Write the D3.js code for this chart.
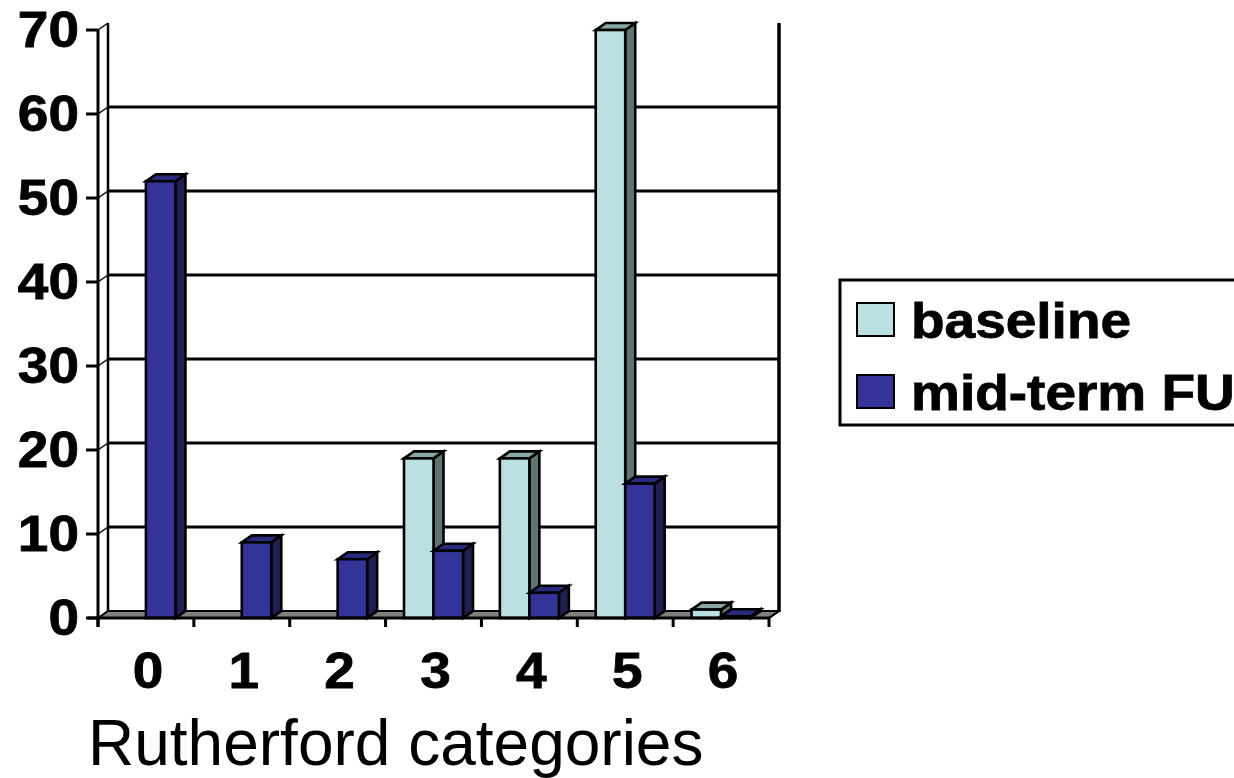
<!DOCTYPE html>
<html>
<head>
<meta charset="utf-8">
<script src="https://cdn.jsdelivr.net/npm/d3@7/dist/d3.min.js"></script>
<style>
  html, body { margin: 0; padding: 0; background: #ffffff; }
  svg { display: block; }
  text { font-family: "Liberation Sans", Arial, sans-serif; fill: #000; }
</style>
</head>
<body>
<svg id="chart" width="1234" height="778"></svg>
<script>
// Rutherford category counts at baseline and at mid-term follow-up
const categories = ["0", "1", "2", "3", "4", "5", "6"];
const seriesNames = ["baseline", "mid-term FU"];
const baselineValues = [0, 0, 0, 19, 19, 70, 1];
const midtermValues = [52, 9, 7, 8, 3, 16, 0.2];
const yTicks = [0, 10, 20, 30, 40, 50, 60, 70];
const xTitle = "Rutherford categories";

const seriesValues = [baselineValues, midtermValues];
const colors = [
  { front: "#bbe0e3", top: "#8aa7a8", side: "#5f7373" },
  { front: "#333399", top: "#2a2a80", side: "#1f1f52" }
];

const svg = d3.select("#chart");

// 3D depth offset of the plot floor and back wall
const DX = 10, DY = -7;

const x0 = d3.scaleBand().domain(categories).range([98, 769]).padding(0);
const x1 = d3.scaleBand().domain(seriesNames).range([0, x0.bandwidth()])
  .paddingInner(0).paddingOuter(0.625);
const y = d3.scaleLinear().domain([0, 70]).range([618, 30]);

const left = x0.range()[0], right = x0.range()[1];
const y0 = y(0);

// Back wall gridlines, with their short diagonals across the left wall
const grid = svg.append("g");
yTicks.filter(v => v > 0 && v < 70).forEach(v => {
  grid.append("line")
    .attr("x1", left + DX).attr("x2", right + DX)
    .attr("y1", y(v) + DY).attr("y2", y(v) + DY)
    .attr("stroke", "#000").attr("stroke-width", 3);
  grid.append("line")
    .attr("x1", left).attr("x2", left + DX)
    .attr("y1", y(v)).attr("y2", y(v) + DY)
    .attr("stroke", "#000").attr("stroke-width", 1.5);
});
// left wall back edge and top diagonal
grid.append("line")
  .attr("x1", left + DX).attr("x2", left + DX)
  .attr("y1", y(70) + DY).attr("y2", y0 + DY)
  .attr("stroke", "#000").attr("stroke-width", 2.5);
grid.append("line")
  .attr("x1", left).attr("x2", left + DX)
  .attr("y1", y(70)).attr("y2", y(70) + DY)
  .attr("stroke", "#000").attr("stroke-width", 1.5);

// Floor
svg.append("polygon")
  .attr("points", [[left, y0], [left + DX, y0 + DY], [right + DX, y0 + DY], [right, y0]].join(" "))
  .attr("fill", "#808080").attr("stroke", "#000").attr("stroke-width", 2)
  .attr("stroke-linejoin", "round");

// Right wall edge
svg.append("line")
  .attr("x1", right + DX).attr("x2", right + DX)
  .attr("y1", y(70) + DY).attr("y2", y0 + DY + 1)
  .attr("stroke", "#000").attr("stroke-width", 3.5);
svg.append("line")
  .attr("x1", right).attr("x2", right + DX)
  .attr("y1", y0).attr("y2", y0 + DY)
  .attr("stroke", "#000").attr("stroke-width", 2);

// Bars: drawn left to right so each front face covers the neighbour's side
const bars = svg.append("g").attr("stroke", "#000").attr("stroke-width", 2.6)
  .attr("stroke-linejoin", "miter");
categories.forEach((c, ci) => {
  seriesNames.forEach((s, si) => {
    const v = seriesValues[si][ci];
    if (!v) return;
    const xa = x0(c) + x1(s), xb = xa + x1.bandwidth();
    const yt = y(v);
    const col = colors[si];
    bars.append("polygon")
      .attr("points", [[xb, yt], [xb + DX, yt + DY], [xb + DX, y0 + DY], [xb, y0]].join(" "))
      .attr("fill", col.side);
    bars.append("polygon")
      .attr("points", [[xa, yt], [xa + DX, yt + DY], [xb + DX, yt + DY], [xb, yt]].join(" "))
      .attr("fill", col.top);
    bars.append("rect")
      .attr("x", xa).attr("y", yt)
      .attr("width", xb - xa).attr("height", y0 - yt)
      .attr("fill", col.front);
  });
});

// Value axis
const yAxis = svg.append("g");
yAxis.append("line")
  .attr("x1", left).attr("x2", left)
  .attr("y1", y(70)).attr("y2", y0 + 9)
  .attr("stroke", "#000").attr("stroke-width", 3);
yTicks.forEach(v => {
  yAxis.append("line")
    .attr("x1", left - 12).attr("x2", left)
    .attr("y1", y(v)).attr("y2", y(v))
    .attr("stroke", "#000").attr("stroke-width", 3);
  yAxis.append("text")
    .attr("transform", `translate(${left - 19},${y(v) + 17}) scale(1.1,1)`)
    .attr("text-anchor", "end")
    .attr("font-size", 50).attr("font-weight", "bold")
    .attr("stroke", "#000").attr("stroke-width", 0.8)
    .text(v);
});

// Category axis
const xAxis = svg.append("g");
xAxis.append("line")
  .attr("x1", left - 10).attr("x2", right)
  .attr("y1", y0).attr("y2", y0)
  .attr("stroke", "#000").attr("stroke-width", 3);
x0.domain().concat([null]).forEach(c => {
  const xt = c === null ? right : x0(c);
  xAxis.append("line")
    .attr("x1", xt).attr("x2", xt)
    .attr("y1", y0).attr("y2", y0 + 9)
    .attr("stroke", "#000").attr("stroke-width", 3);
});
categories.forEach(c => {
  xAxis.append("text")
    .attr("transform", `translate(${x0(c) + x0.bandwidth() / 2 + 2},688) scale(1.1,1)`)
    .attr("text-anchor", "middle")
    .attr("font-size", 50).attr("font-weight", "bold")
    .attr("stroke", "#000").attr("stroke-width", 0.8)
    .text(c);
});

svg.append("text")
  .attr("x", 88).attr("y", 765)
  .attr("font-size", 64)
  .text(xTitle);

// Legend
const legend = svg.append("g");
legend.append("rect")
  .attr("x", 840).attr("y", 280).attr("width", 420).attr("height", 145)
  .attr("fill", "#fff").attr("stroke", "#000").attr("stroke-width", 3);
seriesNames.forEach((s, i) => {
  const ly = 303 + i * 72;
  legend.append("rect")
    .attr("x", 857).attr("y", ly).attr("width", 37).attr("height", 33)
    .attr("fill", colors[i].front).attr("stroke", "#000").attr("stroke-width", 2);
  legend.append("text")
    .attr("transform", `translate(911,${ly + 35}) scale(1.1,1)`)
    .attr("font-size", 50).attr("font-weight", "bold")
    .attr("stroke", "#000").attr("stroke-width", 0.8)
    .text(s);
});
</script>
</body>
</html>
